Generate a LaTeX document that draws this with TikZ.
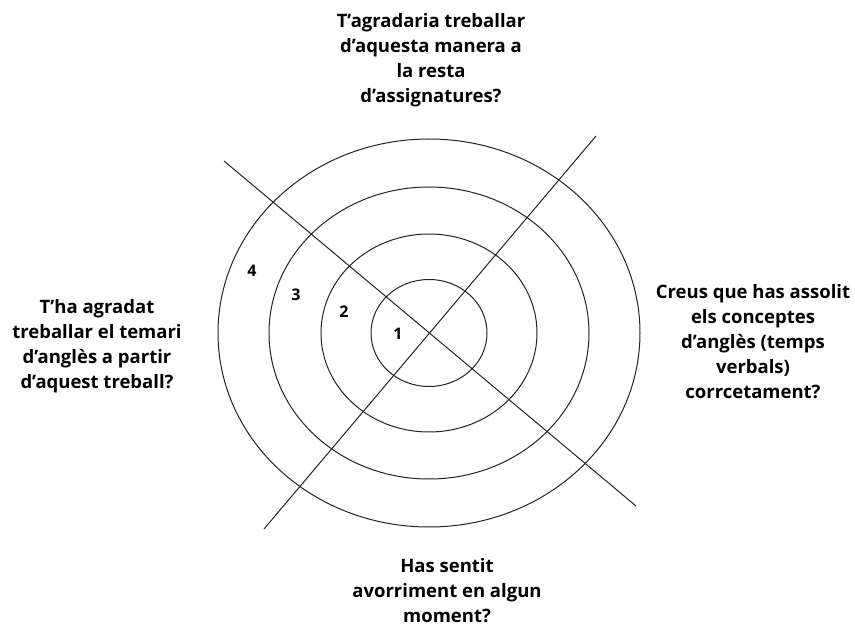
\documentclass[tikz,border=0pt]{standalone}
\usepackage{fontspec}
\setmainfont{Open Sans}
\usetikzlibrary{positioning}
\definecolor{inkgray}{RGB}{35,35,35}

\begin{document}
\begin{tikzpicture}[x=1pt,y=-1pt,
    question/.style={align=center, font=\bfseries\fontsize{18.5}{25}\selectfont, text=black},
    ring/.style={draw=inkgray, line width=1pt},
    level/.style={font=\bfseries\fontsize{16}{16}\selectfont, text=black}]
            \useasboundingbox (0,0) rectangle (855,628);

            % Centre of the target
            \coordinate (centre) at (429,333);

            % Rings
            \draw[ring] (centre) ellipse [x radius=211pt, y radius=194pt];
            \draw[ring] (centre) ellipse [x radius=160pt, y radius=146pt];
            \draw[ring] (centre) ellipse [x radius=108pt, y radius=99pt];
            \draw[ring] (centre) ellipse [x radius=58pt, y radius=53.5pt];

            % Crossing lines
            \coordinate (nw) at (224,161);
            \coordinate (se) at (636,506);
            \coordinate (ne) at (596,136);
            \coordinate (sw) at (264,529);
            \draw[ring] (nw) -- (se);
            \draw[ring] (ne) -- (sw);

            % Levels
            \node[level] (l4) at (252,271) {4};
            \node[level] (l3) at (296,295) {3};
            \node[level] (l2) at (344,312) {2};
            \node[level] (l1) at (398,334) {1};

            % Questions
            \node[question] (top) at (431,60) {T’agradaria treballar\\d’aquesta manera a\\la resta\\d’assignatures?};
            \node[question] (left) at (97,346) {T’ha agradat\\treballar el temari\\d’anglès a partir\\d’aquest treball?};
            \node[question] (right) at (753,342) {Creus que has assolit\\els conceptes\\d’anglès (temps\\verbals)\\corrcetament?};
            \node[question] (bottom) at (447,591) {Has sentit\\avorriment en algun\\moment?};
\end{tikzpicture}
\end{document}
